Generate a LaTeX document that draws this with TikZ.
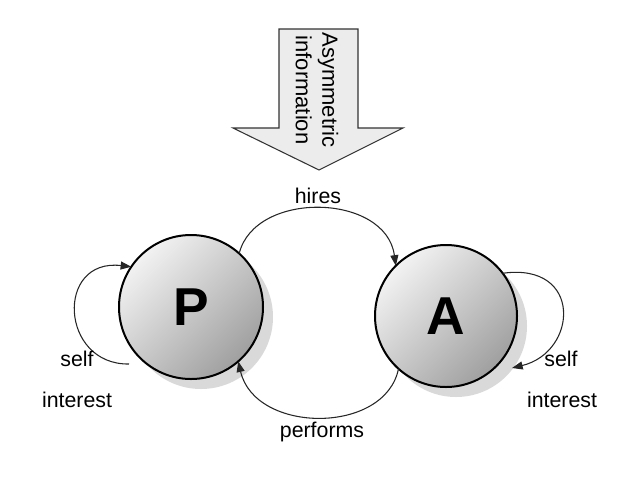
\documentclass[tikz,border=0pt]{standalone}
\usepackage{fontspec}
\setmainfont{Liberation Sans}
\usetikzlibrary{arrows.meta,shadows}
\begin{document}
\begin{tikzpicture}[x=0.75pt,y=-0.75pt,
  lbl/.style={font=\fontsize{16}{18}\selectfont, inner sep=0pt},
  agent/.style={circle, draw=black, line width=1.5pt, minimum size=108pt, inner sep=0pt, outer sep=0pt,
    shading=axis, top color=gray!10, bottom color=gray!75, shading angle=45,
    font=\fontsize{40}{40}\selectfont\bfseries},
  conn/.style={line width=0.8pt, draw=black!85},
  tipped/.style={conn, -{Triangle[length=8pt,width=6pt]}}]
\useasboundingbox (0,0) rectangle (638,479);
% shadows
\fill[gray!30] (201,317) circle (72);
\fill[gray!30] (456,326) circle (71);
% nodes
\node[agent] (P) at (191,307) {P};
\node[agent, minimum size=106.5pt] (A) at (446,316) {A};
% big arrow
\draw[fill=gray!15, draw=black!80, line width=0.8pt]
  (279,29) -- (358,29) -- (358,128) -- (403,128) -- (319,170) -- (233,128) -- (279,128) -- cycle;
\node[rotate=-90, align=center, font=\fontsize{16.5}{20}\selectfont] (info) at (317,90) {Asymmetric\\information};
% connectors
\draw[tipped] (P.48) .. controls (255,190) and (386,193) .. (A.135);
\draw[tipped] (A.228) .. controls (385,435) and (255,434) .. (P.311);
\draw[tipped] ([shift={(-62,57)}]P.center) .. controls (60,365) and (55,258) .. (P.146);
\draw[tipped] (A.37) .. controls (583,262) and (578,352) .. ([shift={(66,52)}]A.center);
% labels
\node[lbl] (hires) at (318,196) {hires};
\node[lbl] (performs) at (322,432) {performs};
\node[lbl] (lself) at (77,359) {self};
\node[lbl] (lint) at (77,400) {interest};
\node[lbl] (rself) at (561,359) {self};
\node[lbl] (rint) at (562,400) {interest};
\end{tikzpicture}
\end{document}
